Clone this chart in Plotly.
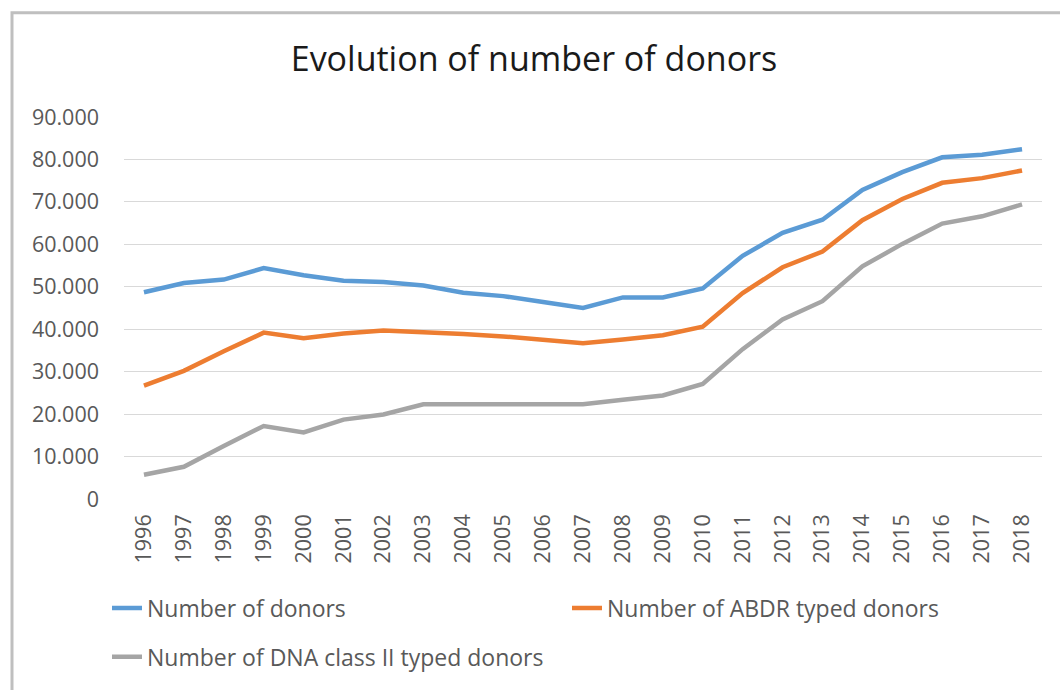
import plotly.graph_objects as go

years = [str(y) for y in range(1996, 2019)]
donors = [48700, 50900, 51700, 54400, 52700, 51400, 51100, 50300, 48600, 47800, 46400, 45000,
          47500, 47500, 49600, 57300, 62700, 65800, 72800, 77000, 80500, 81100, 82400]
abdr = [26700, 30200, 34800, 39200, 37900, 39000, 39700, 39400, 38900, 38300, 37600, 36700,
        37600, 38600, 40600, 48500, 54600, 58300, 65700, 70700, 74500, 75600, 77400]
dna2 = [5700, 7600, 12500, 17200, 15700, 18700, 19900, 22300, 22300, 22300, 22300, 22300,
        23400, 24400, 27100, 35300, 42300, 46600, 54800, 60100, 64900, 66600, 69400]
names = ["Number of donors", "Number of ABDR typed donors", "Number of DNA class II typed donors"]
colors = ["#5B9BD5", "#ED7D31", "#A5A5A5"]
ytick_vals = [0, 10000, 20000, 30000, 40000, 50000, 60000, 70000, 80000, 90000]
ytick_text = ["0", "10.000", "20.000", "30.000", "40.000", "50.000", "60.000", "70.000", "80.000", "90.000"]

FONT = "Open Sans"
W, H = 1060, 690
L, R, T, B = 124, 18, 117, 188
pw, ph = W - L - R, H - T - B

def px_x(p):
    return (p - L) / pw

def px_y(p):
    return (H - B - p) / ph

fig = go.Figure()
series = [donors, abdr, dna2]
legends = ["legend", "legend2", "legend3"]
for s, n, c, lg in zip(series, names, colors, legends):
    fig.add_trace(go.Scatter(x=years, y=s, name=n, mode="lines", showlegend=True,
                             line=dict(color=c, width=4.5), legend=lg))

legfont = dict(family=FONT, size=23, color="#595959")
tickfont = dict(family=FONT, size=21.5, color="#595959")
fig.update_layout(
    width=W, height=H, showlegend=True,
    margin=dict(l=L, r=R, t=T, b=B),
    paper_bgcolor="white", plot_bgcolor="white",
    title=dict(text="Evolution of number of donors", x=534 / W, xref="container", xanchor="center",
               y=1 - 59 / H, yref="container", yanchor="middle",
               font=dict(family=FONT, size=34, color="#1a1a1a")),
    xaxis=dict(type="category", range=[-0.5, 22.5], tickangle=-90, showgrid=False,
               showline=False, ticks="", tickfont=tickfont, ticklabelstandoff=10),
    yaxis=dict(range=[0, 90000], tickvals=ytick_vals, ticktext=ytick_text, showgrid=True,
               gridcolor="#D9D9D9", gridwidth=1, zeroline=False, showline=False, ticks="",
               tickfont=tickfont, ticklabelstandoff=24),
    legend=dict(x=px_x(107), y=px_y(612), xanchor="left", yanchor="middle", font=legfont,
                bgcolor="rgba(0,0,0,0)"),
    legend2=dict(x=px_x(567), y=px_y(612), xanchor="left", yanchor="middle", font=legfont,
                 bgcolor="rgba(0,0,0,0)"),
    legend3=dict(x=px_x(107), y=px_y(661), xanchor="left", yanchor="middle", font=legfont,
                 bgcolor="rgba(0,0,0,0)"),
    shapes=[dict(type="rect", xref="paper", yref="paper",
                 x0=px_x(12), x1=px_x(1080), y0=px_y(720), y1=px_y(12),
                 line=dict(color="#BFBFBF", width=3), fillcolor="rgba(0,0,0,0)", layer="below")],
)

fig.write_html("out.html", config={"displayModeBar": False},
               post_script="document.body.style.margin='0';")
